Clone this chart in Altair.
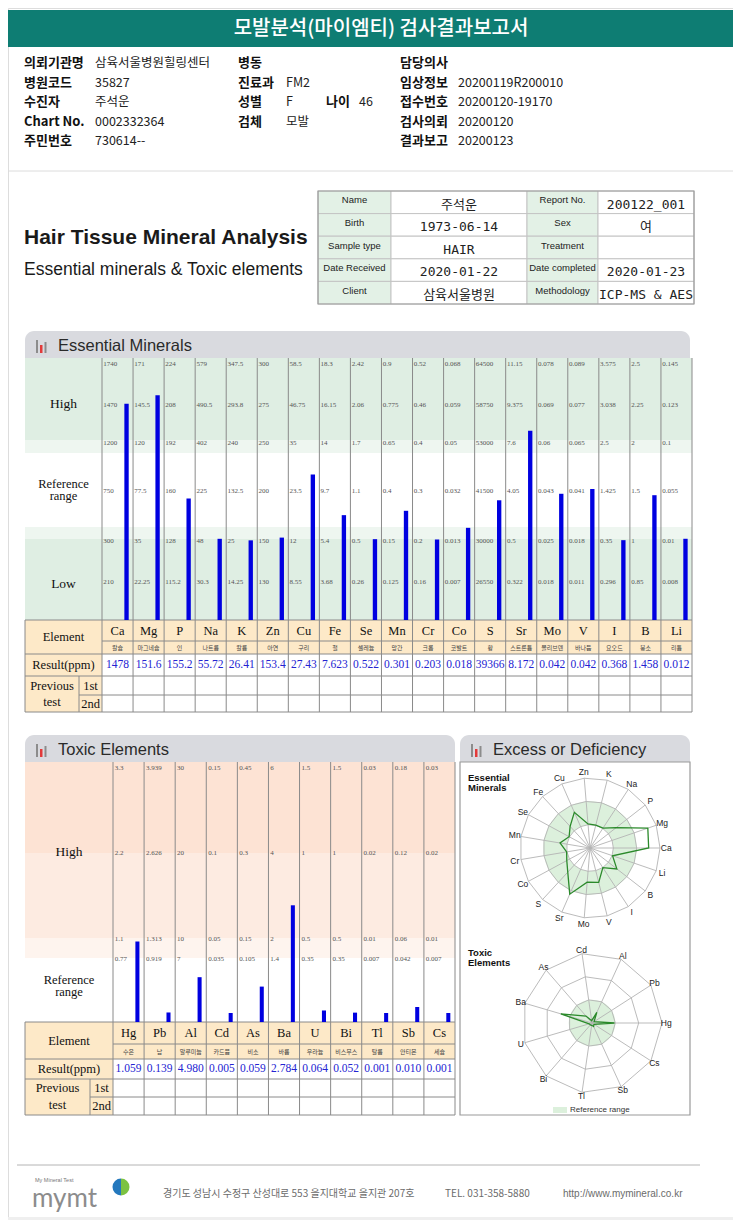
import altair as alt
import numpy as np
import pandas as pd

# ======================= DATA =======================
ess_symbols = ["Ca", "Mg", "P", "Na", "K", "Zn", "Cu", "Fe", "Se", "Mn", "Cr", "Co", "S", "Sr", "Mo", "V", "I", "B", "Li"]
ess_korean = ["칼슘", "마그네슘", "인", "나트륨", "칼륨", "아연", "구리", "철", "셀레늄", "망간", "크롬", "코발트", "황",
              "스트론튬", "몰리브덴", "바나듐", "요오드", "붕소", "리튬"]
ess_results = [1478, 151.6, 155.2, 55.72, 26.41, 153.4, 27.43, 7.623, 0.522, 0.301, 0.203, 0.018, 39366, 8.172,
               0.042, 0.042, 0.368, 1.458, 0.012]
ess_result_text = ["1478", "151.6", "155.2", "55.72", "26.41", "153.4", "27.43", "7.623", "0.522", "0.301", "0.203",
                   "0.018", "39366", "8.172", "0.042", "0.042", "0.368", "1.458", "0.012"]
ess_top = [1740, 171, 224, 579, 347.5, 300, 58.5, 18.3, 2.42, 0.9, 0.52, 0.068, 64500, 11.15, 0.078, 0.089, 3.575, 2.5, 0.145]
ess_high2 = [1470, 145.5, 208, 490.5, 293.8, 275, 46.75, 16.15, 2.06, 0.775, 0.46, 0.059, 58750, 9.375, 0.069, 0.077, 3.038, 2.25, 0.123]
ess_high1 = [1200, 120, 192, 402, 240, 250, 35, 14, 1.7, 0.65, 0.4, 0.05, 53000, 7.6, 0.06, 0.065, 2.5, 2, 0.1]
ess_mid = [750, 77.5, 160, 225, 132.5, 200, 23.5, 9.7, 1.1, 0.4, 0.3, 0.032, 41500, 4.05, 0.043, 0.041, 1.425, 1.5, 0.055]
ess_low1 = [300, 35, 128, 48, 25, 150, 12, 5.4, 0.5, 0.15, 0.2, 0.013, 30000, 0.5, 0.025, 0.018, 0.35, 1, 0.01]
ess_low2 = [210, 22.25, 115.2, 30.3, 14.25, 130, 8.55, 3.68, 0.26, 0.125, 0.16, 0.007, 26550, 0.322, 0.018, 0.011, 0.296, 0.85, 0.008]

tox_symbols = ["Hg", "Pb", "Al", "Cd", "As", "Ba", "U", "Bi", "Tl", "Sb", "Cs"]
tox_korean = ["수은", "납", "알루미늄", "카드뮴", "비소", "바륨", "우라늄", "비스무스", "탈륨", "안티몬", "세슘"]
tox_results = [1.059, 0.139, 4.980, 0.005, 0.059, 2.784, 0.064, 0.052, 0.001, 0.010, 0.001]
tox_result_text = ["1.059", "0.139", "4.980", "0.005", "0.059", "2.784", "0.064", "0.052", "0.001", "0.010", "0.001"]
tox_top = [3.3, 3.939, 30, 0.15, 0.45, 6, 1.5, 1.5, 0.03, 0.18, 0.03]
tox_high2 = [2.2, 2.626, 20, 0.1, 0.3, 4, 1, 1, 0.02, 0.12, 0.02]
tox_high1 = [1.1, 1.313, 10, 0.05, 0.15, 2, 0.5, 0.5, 0.01, 0.06, 0.01]
tox_ref = [0.77, 0.919, 7, 0.035, 0.105, 1.4, 0.35, 0.35, 0.007, 0.042, 0.007]

info_labels = [("의뢰기관명", 0, 0), ("병원코드", 0, 1), ("수진자", 0, 2), ("Chart No.", 0, 3), ("주민번호", 0, 4),
               ("병동", 2, 0), ("진료과", 2, 1), ("성별", 2, 2), ("검체", 2, 3), ("나이", 4, 2),
               ("담당의사", 6, 0), ("임상정보", 6, 1), ("접수번호", 6, 2), ("검사의뢰", 6, 3), ("결과보고", 6, 4)]
info_values = [("삼육서울병원힐링센터", 1, 0), ("35827", 1, 1), ("주석운", 1, 2), ("0002332364", 1, 3), ("730614--", 1, 4),
               ("FM2", 3, 1), ("F", 3, 2), ("모발", 3, 3), ("46", 5, 2),
               ("20200119R200010", 7, 1), ("20200120-19170", 7, 2), ("20200120", 7, 3), ("20200123", 7, 4)]

card_labels = ["Name", "Birth", "Sample type", "Date Received", "Client",
               "Report No.", "Sex", "Treatment", "Date completed", "Methodology"]
card_values = ["주석운", "1973-06-14", "HAIR", "2020-01-22", "삼육서울병원",
               "200122_001", "여", "", "2020-01-23", "ICP-MS & AES"]

# derived positions on the reference scale (piecewise between the printed levels)
ess_rows = [ess_low2, ess_low1, ess_mid, ess_high1, ess_high2, ess_top]
ess_score = [float(np.interp(v, [0] + [r[i] for r in ess_rows], list(range(7)))) for i, v in enumerate(ess_results)]
tox_rows = [tox_ref, tox_high1, tox_high2, tox_top]
tox_score = [float(np.interp(v, [0] + [r[i] for r in tox_rows], list(range(5)))) for i, v in enumerate(tox_results)]
tox_radar = [min(v / t, 1.0) for v, t in zip(tox_results, tox_top)]
ess_radar = [s / 6 for s in ess_score]

# ======================= STYLE / LAYOUT =======================
W, H = 725, 1212
def X(v): return v - 8
def Y(v): return v - 8

SANS = "Liberation Sans, Arial, sans-serif"
KR = "Noto Sans CJK KR"
SERIF = "Liberation Serif, DejaVu Serif, serif"
MONO = "DejaVu Sans Mono, Noto Sans CJK KR"
TEAL = "#0e7d73"
HDR = "#d9dadf"
G1 = "#dfeee3"
G2 = "#eef6f0"
S1 = "#fde3d4"
S2 = "#fdebe1"
S3 = "#fef4ee"
BEIGE = "#fde9c8"
GRID = "#8a8a8a"
BLUE = "#0000e0"
RES_BLUE = "#2323d2"

ONE = pd.DataFrame({"k": [0]})
L = []

def rect(x1, x2, y1, y2, fill=None, stroke=None, sw=1.0, rtop=0):
    kw = {"strokeWidth": sw}
    if fill:
        kw["fill"] = fill
    else:
        kw["fillOpacity"] = 0
    if stroke:
        kw["stroke"] = stroke
    if rtop:
        kw["cornerRadiusTopLeft"] = rtop
        kw["cornerRadiusTopRight"] = rtop
    L.append(alt.Chart(ONE).mark_rect(**kw).encode(
        x=alt.value(X(x1)), x2=alt.value(X(x2)), y=alt.value(Y(y1)), y2=alt.value(Y(y2))))

def hline(x1, x2, y, color=GRID, sw=1.0):
    L.append(alt.Chart(ONE).mark_rule(color=color, strokeWidth=sw).encode(
        x=alt.value(X(x1)), x2=alt.value(X(x2)), y=alt.value(Y(y))))

def vline(x, y1, y2, color=GRID, sw=1.0):
    L.append(alt.Chart(ONE).mark_rule(color=color, strokeWidth=sw).encode(
        x=alt.value(X(x)), y=alt.value(Y(y1)), y2=alt.value(Y(y2))))

def text(t, x, y, size=12, font=SANS, color="#000", weight="normal", align="left"):
    L.append(alt.Chart(ONE).mark_text(font=font, fontSize=size, color=color, fontWeight=weight,
                                      align=align, baseline="middle").encode(
        x=alt.value(X(x)), y=alt.value(Y(y)), text=alt.value(t)))

def qs(domain, rng):
    return alt.Scale(domain=domain, range=rng, nice=False, zero=False)

def section_header(x1, x2, y1, y2, title, tx):
    rect(x1, x2, y1, y2, fill=HDR, rtop=9)
    yb = y2 - 5
    rect(tx - 22, tx - 20, yb - 13, yb, fill="#8c8c8c")
    rect(tx - 18, tx - 15.5, yb - 8, yb, fill="#e23a3a")
    rect(tx - 13.5, tx - 11.5, yb - 11, yb, fill="#8c8c8c")
    text(title, tx, (y1 + y2) / 2 + 1, size=16.5, font=SANS, color="#2a2a2a")

# ======================= PAGE HEADER =======================
rect(0, 741, 10, 47, fill=TEAL)
text("모발분석(마이엠티) 검사결과보고서", 381, 29, size=20, font=KR, color="white", weight=500, align="center")

info_x = qs(list(range(8)), [X(v) for v in [24, 95, 238, 286, 326, 359, 400, 458]])
info_y = qs([0, 4], [Y(63), Y(141)])
df_il = pd.DataFrame(info_labels, columns=["t", "c", "r"])
df_iv = pd.DataFrame(info_values, columns=["t", "c", "r"])
L.append(alt.Chart(df_il).mark_text(font=KR, fontSize=13, fontWeight="bold", align="left", baseline="middle",
                                    color="#111").encode(
    x=alt.X("c:Q", scale=info_x, axis=None), y=alt.Y("r:Q", scale=info_y, axis=None), text="t:N"))
L.append(alt.Chart(df_iv).mark_text(font=KR, fontSize=12.5, align="left", baseline="middle",
                                    color="#222").encode(
    x=alt.X("c:Q", scale=info_x, axis=None), y=alt.Y("r:Q", scale=info_y, axis=None), text="t:N"))
hline(0, 741, 171, "#dcdcdc")

# ======================= TITLE + CARD =======================
text("Hair Tissue Mineral Analysis", 24, 238, size=21, font=SANS, weight="bold", color="#1a1a1a")
text("Essential minerals & Toxic elements", 24, 270, size=17.5, font=SANS, color="#1a1a1a")

card_x = qs([0, 1, 2, 3, 4], [X(v) for v in [318, 391, 527, 598, 694]])
card_y = qs([0, 5], [Y(191), Y(304)])
cells = pd.DataFrame([(c, r, "label" if c % 2 == 0 else "value") for c in range(4) for r in range(5)],
                     columns=["c", "r", "kind"])
L.append(alt.Chart(cells).transform_calculate(c2="datum.c+1", r2="datum.r+1").mark_rect(
    stroke="#c4c4c4", strokeWidth=1).encode(
    x=alt.X("c:Q", scale=card_x, axis=None), x2="c2:Q",
    y=alt.Y("r:Q", scale=card_y, axis=None), y2="r2:Q",
    fill=alt.Fill("kind:N", scale=alt.Scale(domain=["label", "value"], range=["#e3f1e6", "#ffffff"]), legend=None)))
rect(318, 694, 191, 304, stroke="#9c9c9c", sw=1.2)
df_cl = pd.DataFrame({"t": card_labels, "c": [0.5] * 5 + [2.5] * 5, "r": [r + 0.42 for r in range(5)] * 2})
df_cv = pd.DataFrame({"t": card_values, "c": [1.5] * 5 + [3.5] * 5, "r": [r + 0.6 for r in range(5)] * 2})
L.append(alt.Chart(df_cl).mark_text(font=SANS, fontSize=9.5, align="center", baseline="middle", color="#222").encode(
    x=alt.X("c:Q", scale=card_x, axis=None), y=alt.Y("r:Q", scale=card_y, axis=None), text="t:N"))
L.append(alt.Chart(df_cv).mark_text(font=MONO, fontSize=13, align="center", baseline="middle", color="#222").encode(
    x=alt.X("c:Q", scale=card_x, axis=None), y=alt.Y("r:Q", scale=card_y, axis=None), text="t:N"))

# ======================= ESSENTIAL MINERALS =======================
section_header(25, 690, 331, 358, "Essential Minerals", 58)
ne = len(ess_symbols)
ess_x = qs([-1, 0, ne], [X(25), X(102), X(692)])
ess_y = qs(list(range(7)), [Y(v) for v in [620, 582, 541, 491, 443, 405, 364]])

rect(25, 692, 358, 440, fill=G1)
rect(25, 692, 440, 453, fill=G2)
rect(25, 692, 527, 539, fill=G2)
rect(25, 692, 539, 620, fill=G1)
rect(25, 692, 620, 654, fill=BEIGE)
rect(25, 102, 654, 712, fill=BEIGE)

L.append(alt.Chart(pd.DataFrame({"c": list(range(ne + 1))})).mark_rule(color=GRID, strokeWidth=1).encode(
    x=alt.X("c:Q", scale=ess_x, axis=None), y=alt.value(Y(358)), y2=alt.value(Y(712))))
for yy in (620, 654, 676, 712):
    hline(25, 692, yy)
hline(102, 692, 641)
hline(79, 692, 695)
vline(25, 620, 712)
vline(79, 676, 712)

ess_lvl = pd.DataFrame([(i, k + 1, f"{ess_rows[k][i]:g}") for i in range(ne) for k in range(6)],
                       columns=["i", "lvl", "t"])
L.append(alt.Chart(ess_lvl).transform_calculate(xl="datum.i+0.04").mark_text(
    font=SERIF, fontSize=7, align="left", baseline="middle", color="#555").encode(
    x=alt.X("xl:Q", scale=ess_x, axis=None), y=alt.Y("lvl:Q", scale=ess_y, axis=None), text="t:N"))

ess_df = pd.DataFrame({"i": list(range(ne)), "score": ess_score, "sym": ess_symbols, "kor": ess_korean,
                       "res": ess_result_text})
L.append(alt.Chart(ess_df).transform_calculate(xa="datum.i+0.72", xb="datum.i+0.86", base="0").mark_rect(
    color=BLUE).encode(
    x=alt.X("xa:Q", scale=ess_x, axis=None), x2="xb:Q",
    y=alt.Y("score:Q", scale=ess_y, axis=None), y2="base:Q"))

def col_text(df, field, scale, y, size, font, color, weight="normal"):
    L.append(alt.Chart(df).transform_calculate(xc="datum.i+0.5").mark_text(
        font=font, fontSize=size, align="center", baseline="middle", color=color, fontWeight=weight).encode(
        x=alt.X("xc:Q", scale=scale, axis=None), y=alt.value(Y(y)), text=f"{field}:N"))

col_text(ess_df, "sym", ess_x, 631, 12.5, SERIF, "#111")
col_text(ess_df, "kor", ess_x, 647.5, 6, KR, "#444")
col_text(ess_df, "res", ess_x, 665, 11.5, SERIF, RES_BLUE)

text("High", 63.5, 404, size=13.5, font=SERIF, color="#111", align="center")
text("Reference", 63.5, 484, size=12.5, font=SERIF, color="#111", align="center")
text("range", 63.5, 496, size=12.5, font=SERIF, color="#111", align="center")
text("Low", 63.5, 584, size=13.5, font=SERIF, color="#111", align="center")
text("Element", 63.5, 637, size=12.5, font=SERIF, color="#111", align="center")
text("Result(ppm)", 63.5, 665, size=12.5, font=SERIF, color="#111", align="center")
text("Previous", 52, 685.5, size=12.5, font=SERIF, color="#111", align="center")
text("test", 52, 702, size=12.5, font=SERIF, color="#111", align="center")
text("1st", 90.5, 686, size=12.5, font=SERIF, color="#111", align="center")
text("2nd", 90.5, 704, size=12.5, font=SERIF, color="#111", align="center")

# ======================= TOXIC ELEMENTS =======================
section_header(25, 455, 735, 762, "Toxic Elements", 58)
nt = len(tox_symbols)
tox_x = qs([-1, 0, nt], [X(25), X(113), X(455)])
tox_y = qs(list(range(5)), [Y(v) for v in [1022, 959, 939, 853, 768]])

rect(25, 455, 762, 853, fill=S1)
rect(25, 455, 853, 938, fill=S2)
rect(25, 455, 938, 958, fill=S3)
rect(25, 455, 1022, 1059, fill=BEIGE)
rect(25, 113, 1059, 1115, fill=BEIGE)

L.append(alt.Chart(pd.DataFrame({"c": list(range(nt + 1))})).mark_rule(color=GRID, strokeWidth=1).encode(
    x=alt.X("c:Q", scale=tox_x, axis=None), y=alt.value(Y(762)), y2=alt.value(Y(1115))))
for yy in (1022, 1059, 1079, 1115):
    hline(25, 455, yy)
hline(113, 455, 1044)
hline(90, 455, 1097)
vline(25, 1022, 1115)
vline(90, 1079, 1115)

tox_lvl = pd.DataFrame([(i, k + 1, f"{tox_rows[k][i]:g}") for i in range(nt) for k in range(4)],
                       columns=["i", "lvl", "t"])
L.append(alt.Chart(tox_lvl).transform_calculate(xl="datum.i+0.06").mark_text(
    font=SERIF, fontSize=7, align="left", baseline="middle", color="#555").encode(
    x=alt.X("xl:Q", scale=tox_x, axis=None), y=alt.Y("lvl:Q", scale=tox_y, axis=None), text="t:N"))

tox_df = pd.DataFrame({"i": list(range(nt)), "score": tox_score, "sym": tox_symbols, "kor": tox_korean,
                       "res": tox_result_text})
L.append(alt.Chart(tox_df).transform_calculate(xa="datum.i+0.72", xb="datum.i+0.85", base="0").mark_rect(
    color=BLUE).encode(
    x=alt.X("xa:Q", scale=tox_x, axis=None), x2="xb:Q",
    y=alt.Y("score:Q", scale=tox_y, axis=None), y2="base:Q"))

col_text(tox_df, "sym", tox_x, 1033, 12.5, SERIF, "#111")
col_text(tox_df, "kor", tox_x, 1051.5, 6, KR, "#444")
col_text(tox_df, "res", tox_x, 1069, 11.5, SERIF, RES_BLUE)

text("High", 69, 852, size=13.5, font=SERIF, color="#111", align="center")
text("Reference", 69, 980, size=12.5, font=SERIF, color="#111", align="center")
text("range", 69, 992, size=12.5, font=SERIF, color="#111", align="center")
text("Element", 69, 1041, size=12.5, font=SERIF, color="#111", align="center")
text("Result(ppm)", 69, 1069, size=12.5, font=SERIF, color="#111", align="center")
text("Previous", 57.5, 1088, size=12.5, font=SERIF, color="#111", align="center")
text("test", 57.5, 1105, size=12.5, font=SERIF, color="#111", align="center")
text("1st", 101.5, 1088, size=12.5, font=SERIF, color="#111", align="center")
text("2nd", 101.5, 1106, size=12.5, font=SERIF, color="#111", align="center")

# ======================= EXCESS OR DEFICIENCY =======================
section_header(460, 690, 735, 762, "Excess or Deficiency", 493)
rect(460, 690, 762, 1115, stroke="#9a9a9a", sw=1.2)
RING = "#b3b3b3"
RAD_G = "#dcf0dc"
LINE_G = "#2b8a2b"

def radar(n, cx, cy, R, rr, names, band_in, band_out, lab_r):
    xs = qs([-1, 1], [X(cx - R), X(cx + R)])
    ys = qs([-1, 1], [Y(cy + R), Y(cy - R)])
    L.append(alt.Chart(pd.DataFrame({"a": [band_out], "b": [band_in]})).mark_arc(fill=RAD_G).encode(
        theta=alt.value(0), theta2=alt.value(6.2832),
        radius=alt.Radius("a:Q", scale=alt.Scale(type="linear", domain=[0, 1], range=[0, R], zero=True, nice=False)),
        radius2=alt.Radius2("b:Q"),
        x=alt.value(X(cx)), y=alt.value(Y(cy))))

    def polar(ch):
        return ch.transform_calculate(ang=f"2*PI*datum.i/{n}").transform_calculate(
            px="datum.r*cos(datum.ang)").transform_calculate(py="datum.r*sin(datum.ang)")

    rings = pd.DataFrame([(k, i, k / 3) for k in (1, 2, 3) for i in range(n)], columns=["ring", "i", "r"])
    L.append(polar(alt.Chart(rings)).mark_line(interpolate="linear-closed", color=RING, strokeWidth=0.9).encode(
        x=alt.X("px:Q", scale=xs, axis=None), y=alt.Y("py:Q", scale=ys, axis=None),
        detail="ring:N", order="i:Q"))
    spokes = pd.DataFrame({"i": list(range(n)), "r": [1.0] * n})
    L.append(polar(alt.Chart(spokes)).transform_calculate(z="0").mark_rule(color=RING, strokeWidth=0.9).encode(
        x=alt.X("z:Q", scale=xs, axis=None), y=alt.Y("z:Q", scale=ys, axis=None), x2="px:Q", y2="py:Q"))
    dat = pd.DataFrame({"i": list(range(n)), "r": rr})
    L.append(polar(alt.Chart(dat)).mark_line(interpolate="linear-closed", color=LINE_G, strokeWidth=1.3).encode(
        x=alt.X("px:Q", scale=xs, axis=None), y=alt.Y("py:Q", scale=ys, axis=None), order="i:Q"))
    lab = pd.DataFrame({"i": list(range(n)), "r": [lab_r] * n, "t": names})
    L.append(polar(alt.Chart(lab)).mark_text(font=SANS, fontSize=8.5, color="#222", align="center",
                                             baseline="middle").encode(
        x=alt.X("px:Q", scale=xs, axis=None), y=alt.Y("py:Q", scale=ys, axis=None), text="t:N"))

text("Essential", 468, 778, size=9.5, font=SANS, weight="bold", color="#111")
text("Minerals", 468, 788, size=9.5, font=SANS, weight="bold", color="#111")
radar(ne, 590, 848, 70, ess_radar, ess_symbols, 1 / 3, 2 / 3, 1.09)

text("Toxic", 468, 953, size=9.5, font=SANS, weight="bold", color="#111")
text("Elements", 468, 963, size=9.5, font=SANS, weight="bold", color="#111")
radar(nt, 592, 1023, 70, tox_radar, tox_symbols, 0, 1 / 3, 1.06)
rect(553, 567, 1107, 1113, fill=RAD_G)
text("Reference range", 570, 1110, size=8, font=SANS, color="#333")

# ======================= FOOTER =======================
hline(17, 700, 1165, "#b4b4b4")
text("My Mineral Test", 35, 1180, size=5.5, font=SANS, color="#777")
text("mymt", 32, 1199, size=26, font="Lato, Open Sans, sans-serif", color="#8c8c8c")
L.append(alt.Chart(ONE).mark_arc(fill="#7cc242").encode(
    theta=alt.value(0), theta2=alt.value(3.1416), radius=alt.value(8.5), x=alt.value(X(121)), y=alt.value(Y(1187))))
L.append(alt.Chart(ONE).mark_arc(fill="#2478bd").encode(
    theta=alt.value(3.1416), theta2=alt.value(6.2832), radius=alt.value(8.5), x=alt.value(X(121)), y=alt.value(Y(1187))))
text("경기도 성남시 수정구 산성대로 553 을지대학교 을지관 207호", 163, 1194, size=10, font=KR, color="#6b6b6b")
text("TEL. 031-358-5880", 445, 1194, size=10, font=KR, color="#6b6b6b")
text("http://www.mymineral.co.kr", 563, 1194, size=10, font=SANS, color="#6b6b6b")
rect(0, 741, 1217, 1228, fill="#efefef")

chart = alt.layer(*L).resolve_scale(
    x="independent", y="independent", fill="independent", radius="independent"
).properties(
    width=W, height=H, padding=0, autosize=alt.AutoSizeParams(type="none")
).configure_view(strokeWidth=0).configure(background="white")

chart.save("out.html", embed_options={"renderer": "svg", "actions": False})
